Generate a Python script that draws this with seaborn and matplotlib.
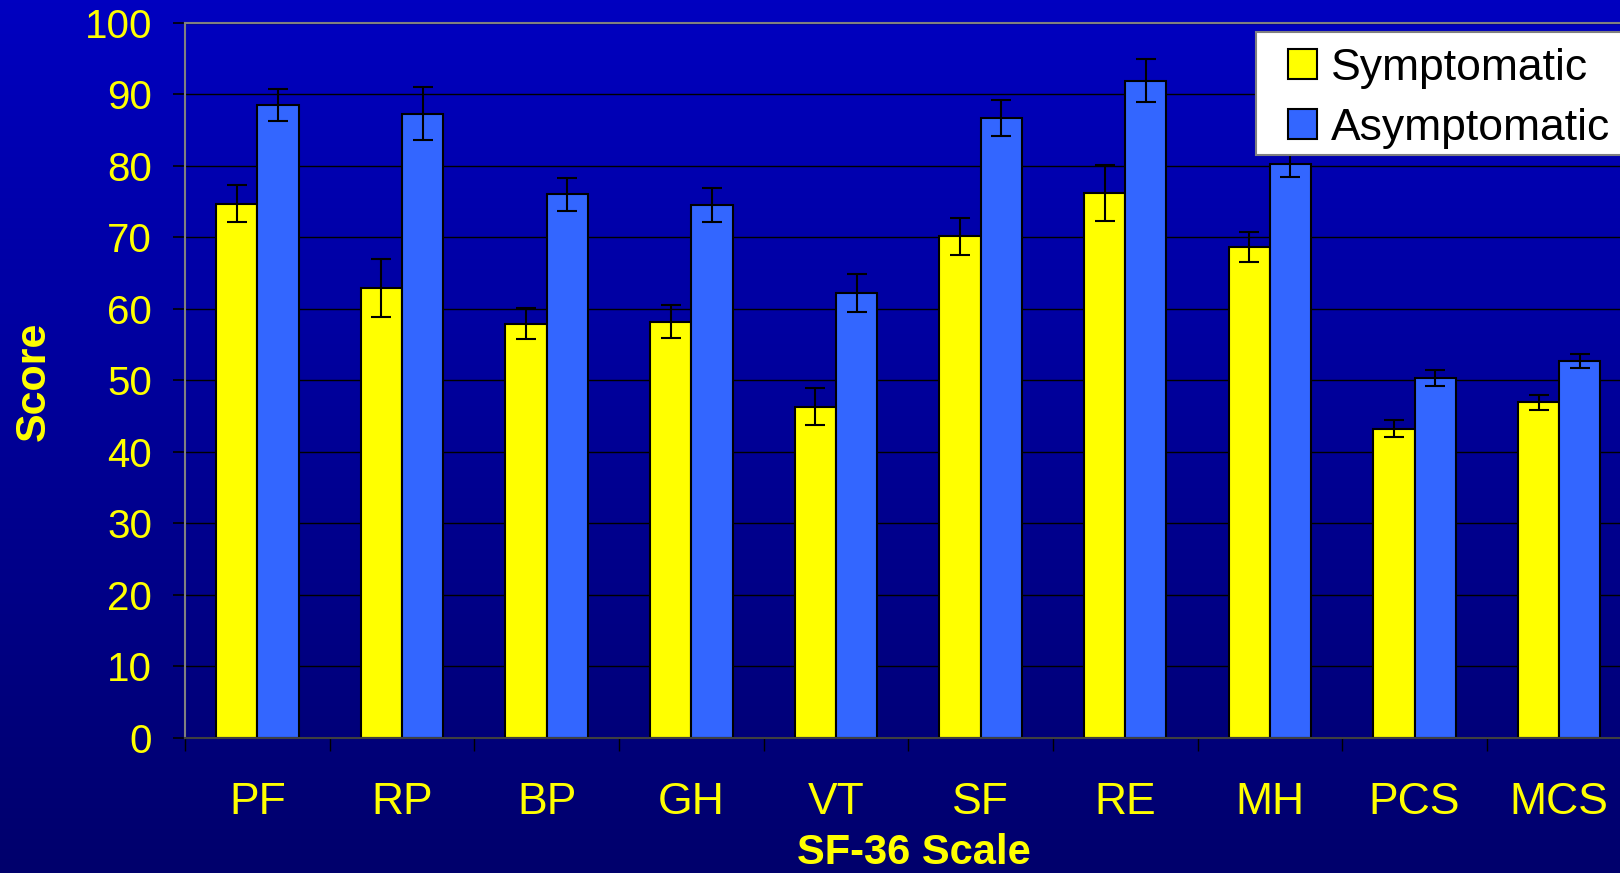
import numpy as np
import pandas as pd
import matplotlib
matplotlib.use('Agg')
import matplotlib.pyplot as plt
from matplotlib.colors import LinearSegmentedColormap
from matplotlib.patches import Rectangle
import seaborn as sns

# SF-36 scale scores
scales = ['PF', 'RP', 'BP', 'GH', 'VT', 'SF', 'RE', 'MH', 'PCS', 'MCS']
groups = ['Symptomatic', 'Asymptomatic']
symptomatic = [74.7, 62.9, 57.9, 58.2, 46.3, 70.1, 76.2, 68.6, 43.2, 46.9]
symptomatic_err = [2.6, 4.0, 2.2, 2.3, 2.6, 2.6, 3.9, 2.1, 1.2, 1.1]
asymptomatic = [88.5, 87.3, 76.0, 74.5, 62.2, 86.7, 91.9, 80.3, 50.3, 52.7]
asymptomatic_err = [2.2, 3.7, 2.3, 2.4, 2.6, 2.5, 3.0, 1.9, 1.1, 1.0]
yticks = list(range(0, 101, 10))

colors = ['#FFFF00', '#3366FF']
label_yellow = '#FFFF00'

sns.set_style('white')
plt.rcParams['font.family'] = ['Liberation Sans', 'DejaVu Sans']

df = pd.DataFrame({
    'scale': scales * 2,
    'group': [groups[0]] * len(scales) + [groups[1]] * len(scales),
    'score': symptomatic + asymptomatic,
})

W, H = 1620, 873
fig = plt.figure(figsize=(W / 100, H / 100), dpi=100)

# blue gradient background like the slide
bg = fig.add_axes([0, 0, 1, 1], zorder=-10)
grad = np.linspace(0, 1, 256).reshape(-1, 1)
cmap = LinearSegmentedColormap.from_list('bg', ['#0000C0', '#00006C'])
bg.imshow(grad, aspect='auto', cmap=cmap, extent=[0, 1, 0, 1])
bg.axis('off')

# plot area runs slightly past the right edge, as in the original
ax = fig.add_axes([185 / W, 1 - 737.7 / H, 1446.5 / W, 715 / H])
ax.set_facecolor('none')

sns.barplot(data=df, x='scale', y='score', hue='group', palette=colors,
            width=0.57, gap=0, edgecolor='black', linewidth=1.5,
            errorbar=None, saturation=1, ax=ax)

# error bars from the bar centres
for cont, err in zip(ax.containers, [symptomatic_err, asymptomatic_err]):
    xs = [b.get_x() + b.get_width() / 2 for b in cont]
    ys = [b.get_height() for b in cont]
    ax.errorbar(xs, ys, yerr=err, fmt='none', ecolor='black',
                elinewidth=1.5, capsize=7, capthick=1.5, zorder=5)

ax.set_ylim(0, 100)
ax.set_xlim(-0.5, len(scales) - 0.5)
ax.set_yticks(yticks)
ax.set_xticks(np.arange(-0.5, len(scales), 1), minor=True)
ax.yaxis.grid(True, color='black', linewidth=1)
ax.set_axisbelow(True)
ax.set_xlabel('')
ax.set_ylabel('')

ax.spines['top'].set_color('#808080')
ax.spines['top'].set_linewidth(1.5)
ax.spines['left'].set_color('#808080')
ax.spines['left'].set_linewidth(1.5)
ax.spines['bottom'].set_color('#404040')
ax.spines['bottom'].set_linewidth(1.5)
ax.spines['right'].set_visible(False)

ax.tick_params(axis='y', left=True, direction='out', length=8.6, width=1.2,
               color='black', labelcolor=label_yellow, labelsize=29, pad=15)
ax.tick_params(axis='x', which='major', bottom=True, length=0,
               labelcolor=label_yellow, labelsize=32, pad=32)
ax.tick_params(axis='x', which='minor', bottom=True, direction='out',
               length=9.4, width=1, color='black')

fig.text(33.5 / W, 1 - 381 / H, 'Score', rotation=90, ha='center',
         va='center', fontsize=31, fontweight='bold', color=label_yellow)
fig.text(914 / W, 1 - 853 / H, 'SF-36 Scale', ha='center',
         va='center', fontsize=30, fontweight='bold', color=label_yellow)

# white legend box, cut off by the right edge like the original
box = Rectangle((1256 / W, 1 - 155 / H), 400 / W, 123 / H,
                transform=fig.transFigure, facecolor='white',
                edgecolor='#808080', linewidth=1.5, clip_on=False, zorder=10)
ax.add_patch(box)

sns.move_legend(ax, 'upper left', bbox_to_anchor=(1288 / W, 1 - 48 / H),
                bbox_transform=fig.transFigure, title=None, fontsize=32,
                frameon=False, borderpad=0, handlelength=0.66,
                handleheight=0.66, handletextpad=0.3, labelspacing=0.42,
                borderaxespad=0, labelcolor='black')
leg = ax.get_legend()
leg.set_zorder(11)
for h in leg.legend_handles:
    h.set_edgecolor('black')
    h.set_linewidth(1.5)

fig.savefig('out.png', dpi=100)
